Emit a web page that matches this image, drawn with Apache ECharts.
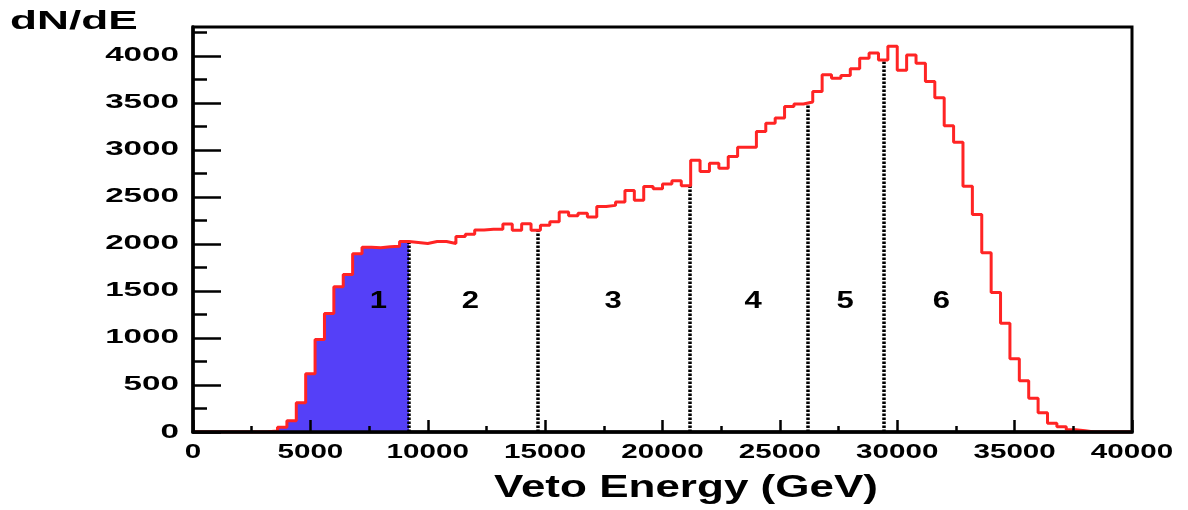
<!DOCTYPE html>
<html>
<head>
<meta charset="utf-8">
<title>Veto Energy</title>
<script src="https://cdn.jsdelivr.net/npm/echarts@6.0.0/dist/echarts.min.js"></script>
<style>
  html, body { margin: 0; padding: 0; background: #fff; }
  #chart { width: 1188px; height: 510px; }
</style>
</head>
<body>
<div id="chart"></div>
<script>
// 100 bins of 400 GeV, 0 .. 40000, counts
var binWidth = 400
var counts = [
  0, 0, 0, 0, 0, 0, 0, 3, 12, 50,
  120, 310, 620, 985, 1260, 1545, 1675, 1895, 1965, 1960,
  1970, 1975, 2025, 2015, 2005, 2025, 2025, 2005, 2078, 2103,
  2149, 2156, 2156, 2213, 2145, 2215, 2145, 2200, 2235, 2340,
  2301, 2326, 2286, 2397, 2410, 2445, 2567, 2465, 2610, 2587,
  2638, 2672, 2619, 2890, 2769, 2858, 2805, 2929, 3028, 3028,
  3195, 3284, 3340, 3461, 3489, 3510, 3620, 3798, 3762, 3790,
  3862, 3975, 4030, 3955, 4102, 3848, 4008, 3922, 3727, 3555,
  3257, 3082, 2613, 2312, 1905, 1484, 1156, 780, 545, 358,
  206, 92, 55, 25, 14, 0, 0, 0, 0, 0
]
var fillEnd = 9200
var dividerEnergy = [9190, 14700, 21180, 26180, 29420]
var regionNames = ['1', '2', '3', '4', '5', '6']
var regionEnergy = [7900, 11820, 17900, 23860, 27780, 31880]
var regionLevel = 1390
var xTicks = [0, 5000, 10000, 15000, 20000, 25000, 30000, 35000, 40000]
var yTicks = [0, 500, 1000, 1500, 2000, 2500, 3000, 3500, 4000]
var yMinorTicks = [250, 750, 1250, 1750, 2250, 2750, 3250, 3750, 4250]
var xMax = 40000
var yMax = 4307

var FONT = '"Liberation Sans", Arial, sans-serif'

// step points at the left edge of each bin, plus a closing point
function histPoints (upTo) {
  var pts = []
  for (var i = 0; i < counts.length; i++) {
    var x = i * binWidth
    if (x >= upTo) break
    pts.push([x, counts[i]])
  }
  pts.push([Math.min(upTo, counts.length * binWidth), counts[pts.length - 1]])
  return pts
}

var dividerLines = dividerEnergy.map(function (e) {
  var top = counts[Math.floor(e / binWidth)]
  return [{ coord: [e, 0] }, { coord: [e, top] }]
})

var tickStyle = { color: '#000', width: 2.5 }

var chart = echarts.init(document.getElementById('chart'))
chart.setOption({
  animation: false,
  backgroundColor: '#fff',
  grid: {
    left: 193,
    right: 56,
    top: 27,
    bottom: 78,
    show: true,
    borderColor: '#000',
    borderWidth: 3
  },
  xAxis: {
    type: 'value',
    min: 0,
    max: xMax,
    interval: 5000,
    z: 6,
    axisLine: { show: true, lineStyle: { color: '#000', width: 3.5 } },
    axisTick: { inside: true, length: 12, lineStyle: tickStyle },
    minorTick: { show: true, splitNumber: 2, length: 6, lineStyle: tickStyle },
    axisLabel: { show: false },
    splitLine: { show: false }
  },
  yAxis: [
    {
      type: 'value',
      min: 0,
      max: yMax,
      z: 6,
      axisLine: { show: true, lineStyle: { color: '#000', width: 3.5 } },
      axisTick: { inside: true, length: 28, customValues: yTicks, lineStyle: tickStyle },
      axisLabel: { show: false },
      splitLine: { show: false }
    },
    {
      type: 'value',
      min: 0,
      max: yMax,
      position: 'left',
      z: 6,
      axisLine: { show: false },
      axisTick: { inside: true, length: 14, customValues: yMinorTicks, lineStyle: tickStyle },
      axisLabel: { show: false },
      splitLine: { show: false }
    }
  ],
  series: [
    {
      name: 'region 1',
      type: 'line',
      step: 'end',
      symbol: 'none',
      data: histPoints(fillEnd),
      lineStyle: { width: 0 },
      areaStyle: { color: '#5540f8', opacity: 1 },
      z: 2
    },
    {
      name: 'dN/dE',
      type: 'line',
      step: 'end',
      symbol: 'none',
      data: histPoints(xMax),
      lineStyle: { color: '#ff2424', width: 3 },
      z: 4,
      markLine: {
        silent: true,
        symbol: 'none',
        label: { show: false },
        lineStyle: { color: '#000', width: 3.5, type: [2.5, 1.5] },
        data: dividerLines,
        z: 3
      }
    }
  ]
})

// text is drawn as graphic so it can be widened like the original
function txt (x, y, s, size, sx, align, valign) {
  return {
    type: 'text',
    x: x,
    y: y,
    scaleX: sx,
    z: 10,
    style: {
      text: s,
      fill: '#000',
      font: 'bold ' + size + 'px ' + FONT,
      align: align,
      textAlign: align,
      verticalAlign: valign,
      textVerticalAlign: valign
    }
  }
}

var graphics = []
yTicks.forEach(function (v) {
  var p = chart.convertToPixel({ xAxisIndex: 0, yAxisIndex: 0 }, [0, v])
  graphics.push(txt(p[0] - 14, p[1], String(v), 20, 1.66, 'right', 'middle'))
})
xTicks.forEach(function (v) {
  var p = chart.convertToPixel({ xAxisIndex: 0, yAxisIndex: 0 }, [v, 0])
  graphics.push(txt(p[0], p[1] + 10, String(v), 20, 1.48, 'center', 'top'))
})
regionNames.forEach(function (n, i) {
  var p = chart.convertToPixel({ xAxisIndex: 0, yAxisIndex: 0 }, [regionEnergy[i], regionLevel])
  graphics.push(txt(p[0], p[1], n, 23, 1.35, 'center', 'middle'))
})
var mid = chart.convertToPixel({ xAxisIndex: 0, yAxisIndex: 0 }, [21000, 0])
graphics.push(txt(mid[0], 473, 'Veto Energy (GeV)', 31, 1.42, 'center', 'top'))
graphics.push(txt(10, 9, 'dN/dE', 26, 1.7, 'left', 'top'))

chart.setOption({ graphic: graphics })
</script>
</body>
</html>
